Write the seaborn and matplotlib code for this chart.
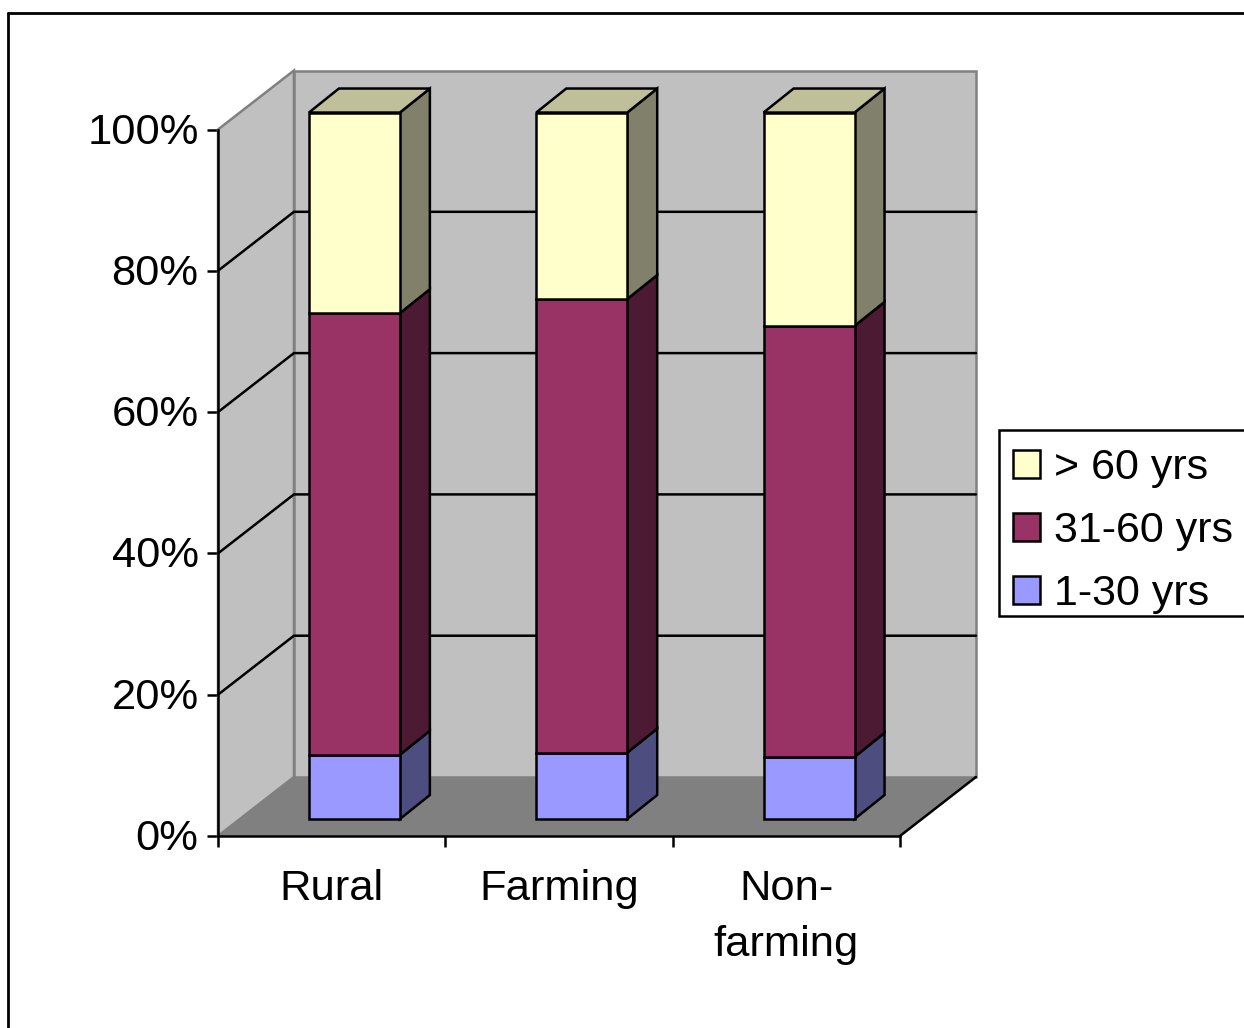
import matplotlib
matplotlib.use("Agg")
import matplotlib.pyplot as plt
import matplotlib.transforms as mtransforms
from matplotlib.lines import Line2D
from matplotlib.patches import Patch, Polygon, Rectangle
import seaborn as sns

# Share of each age group by area type (percent)
categories = ["Rural", "Farming", "Non-\nfarming"]
group_labels = ["1-30 yrs", "31-60 yrs", "> 60 yrs"]
age_1_30 = [9.1, 9.4, 8.8]
age_31_60 = [62.5, 64.2, 61.0]
age_over_60 = [28.4, 26.4, 30.2]
y_ticks = [0, 20, 40, 60, 80, 100]

FACE = ["#9999FF", "#993366", "#FFFFCC"]
SIDE = ["#4D4D80", "#4D1A33", "#80806B"]
TOP = "#BFBF99"
WALL = "#C0C0C0"
FLOOR = "#808080"
FONT_SIZE = 31.3
LEGEND_FONT = 31.0
LINE = 1.8

# Pseudo-3D depth vectors, in category units and percentage points
WALL_DX, WALL_DY = 0.334, 8.35
BAR_DX, BAR_DY = 0.1, 2.4
DEPTH_DX, DEPTH_DY = 0.132, 3.4
BAR_WIDTH = 0.4

sns.set_theme(style="white")
plt.rcParams["font.family"] = ["Liberation Sans", "DejaVu Sans"]
plt.rcParams["text.color"] = "black"

W, H = 1244, 1028
fig = plt.figure(figsize=(W / 100, H / 100), dpi=100, facecolor="white")
ax = fig.add_axes([218 / W, 1 - 836 / H, 682 / W, 706.5 / H])
ax.patch.set_visible(False)

x0, x1 = -0.5, 2.5

# Left wall, back wall and floor
left_wall = [(x0, 0), (x0 + WALL_DX, WALL_DY), (x0 + WALL_DX, 100 + WALL_DY), (x0, 100)]
back_wall = [(x0 + WALL_DX, WALL_DY), (x1 + WALL_DX, WALL_DY),
             (x1 + WALL_DX, 100 + WALL_DY), (x0 + WALL_DX, 100 + WALL_DY)]
floor = [(x0, 0), (x1, 0), (x1 + WALL_DX, WALL_DY), (x0 + WALL_DX, WALL_DY)]
ax.add_patch(Polygon(left_wall, closed=True, fc=WALL, ec="#808080", lw=LINE, zorder=1, clip_on=False))
ax.add_patch(Polygon(back_wall, closed=True, fc=WALL, ec="#808080", lw=LINE, zorder=1, clip_on=False))
ax.add_patch(Polygon(floor, closed=True, fc=FLOOR, ec="none", zorder=1.5, clip_on=False))
ax.plot([x1, x1 + WALL_DX], [0, WALL_DY], color="black", lw=LINE, zorder=1.6, clip_on=False)

# Gridlines wrap from the left wall across the back wall
for tick in y_ticks[1:-1]:
    ax.plot([x0, x0 + WALL_DX, x1 + WALL_DX],
            [tick, tick + WALL_DY, tick + WALL_DY],
            color="black", lw=LINE, zorder=2, clip_on=False)

# Stacked front faces, shifted into the floor depth, with their side and top faces
series = [age_1_30, age_31_60, age_over_60]
bottoms = [0.0, 0.0, 0.0]
for k, values in enumerate(series):
    before = len(ax.patches)
    sns.barplot(x=categories, y=values, bottom=bottoms, color=FACE[k], saturation=1,
                width=BAR_WIDTH, edgecolor="black", linewidth=LINE, errorbar=None,
                zorder=4, ax=ax)
    for bar in ax.patches[before:]:
        bar.set_x(bar.get_x() + BAR_DX)
        bar.set_y(bar.get_y() + BAR_DY)
        bar.set_clip_on(False)
        right = bar.get_x() + bar.get_width()
        low = bar.get_y()
        high = low + bar.get_height()
        ax.add_patch(Polygon(
            [(right, low), (right + DEPTH_DX, low + DEPTH_DY),
             (right + DEPTH_DX, high + DEPTH_DY), (right, high)],
            closed=True, fc=SIDE[k], ec="black", lw=LINE, zorder=3.5, clip_on=False))
        if k == len(series) - 1:
            left = bar.get_x()
            ax.add_patch(Polygon(
                [(left, high), (right, high),
                 (right + DEPTH_DX, high + DEPTH_DY), (left + DEPTH_DX, high + DEPTH_DY)],
                closed=True, fc=TOP, ec="black", lw=LINE, zorder=3.5, clip_on=False))
    bottoms = [b + v for b, v in zip(bottoms, values)]

# Axes, ticks and labels
ax.set_xlim(x0, x1)
ax.set_ylim(0, 100)
ax.set_xlabel("")
ax.set_ylabel("")
ax.set_yticks(y_ticks)
ax.set_yticklabels([f"{t}%" for t in y_ticks])
ax.set_xticks([x0, 0.5, 1.5, x1])
ax.set_xticklabels([])
ax.set_xticks([0, 1, 2], minor=True)
ax.set_xticklabels(categories, minor=True, linespacing=1.52)
ax.tick_params(axis="both", which="major", length=8, width=LINE, color="black",
               labelsize=FONT_SIZE, labelcolor="black", left=True, bottom=True, pad=6)
ax.tick_params(axis="x", which="minor", length=0, labelsize=FONT_SIZE, labelcolor="black", pad=24)
raise_labels = mtransforms.ScaledTranslation(0, 1.5 / 100, fig.dpi_scale_trans)
for label in ax.get_yticklabels():
    label.set_transform(label.get_transform() + raise_labels)
for name, spine in ax.spines.items():
    spine.set_visible(name in ("left", "bottom"))
    spine.set_color("black")
    spine.set_linewidth(LINE)
    spine.set_zorder(5)

# Legend box, then its entries with the top segment listed first
fig.add_artist(Rectangle((999 / W, 1 - 616 / H), 260 / W, 186 / H, transform=fig.transFigure,
                         fc="white", ec="black", lw=LINE, zorder=-1))
handles = [Patch(fc=FACE[k], ec="black", lw=LINE) for k in (2, 1, 0)]
labels = [group_labels[k] for k in (2, 1, 0)]
ax.legend(handles, labels, loc="upper left",
          bbox_to_anchor=(999 / W, 1 - 434.5 / H), bbox_transform=fig.transFigure,
          fontsize=LEGEND_FONT, frameon=False, borderaxespad=0, borderpad=0.32,
          labelspacing=0.53, handlelength=0.63, handleheight=0.63, handletextpad=0.33)

# Outer chart border along the left and top of the canvas
fig.add_artist(Line2D([8 / W, 8 / W], [0, 1 - 13 / H], color="black", lw=2))
fig.add_artist(Line2D([8 / W, 1], [1 - 13 / H, 1 - 13 / H], color="black", lw=2))

fig.savefig("out.png", dpi=100)
